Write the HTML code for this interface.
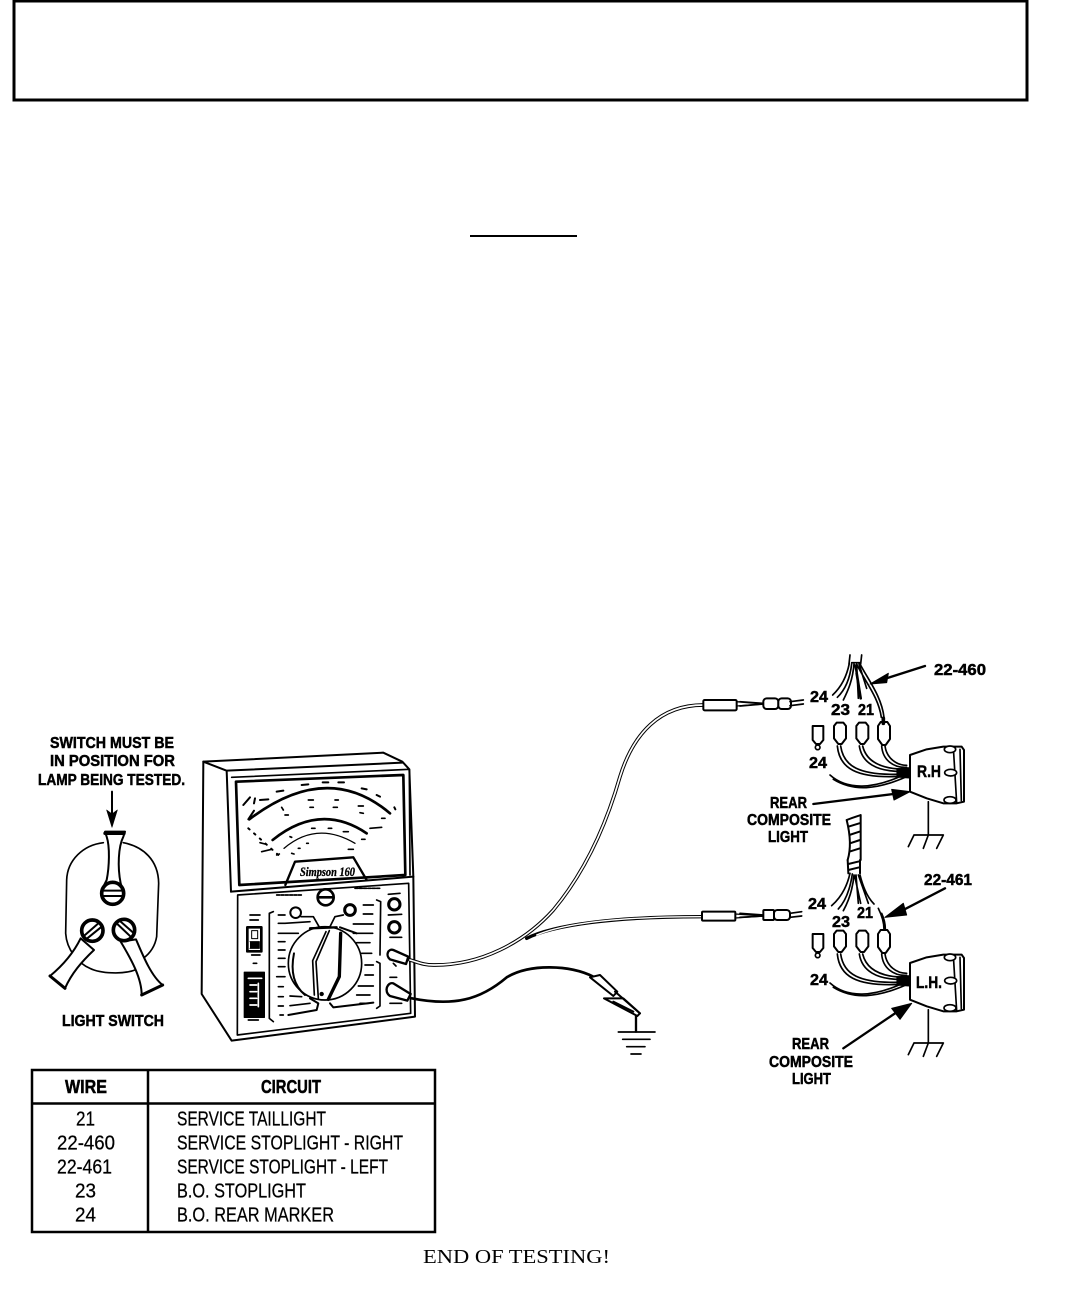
<!DOCTYPE html>
<html><head><meta charset="utf-8">
<style>
html,body{margin:0;padding:0;background:#fff}
svg{display:block}
.l{font-family:"Liberation Sans",sans-serif;font-weight:bold;fill:#000;stroke:#000;stroke-width:.5}
.t{font-family:"Liberation Sans",sans-serif;fill:#000;font-size:20px;stroke:#000;stroke-width:.25}
</style></head>
<body>
<svg width="1081" height="1290" viewBox="0 0 1081 1290" xmlns="http://www.w3.org/2000/svg">
<defs>
<g id="lamp" fill="none" stroke="#000" stroke-linecap="round" stroke-linejoin="round">
  <path d="M510,345 L560,328 L610,320 L665,320 L672,330 L672,485 L650,490 L610,490 L560,475 L510,455 Z" fill="#fff" stroke-width="6"/>
  <path d="M640,322 L650,488 M660,328 L664,482" stroke-width="5"/>
  <ellipse cx="630" cy="328" rx="17" ry="10" fill="#fff" stroke-width="5"/>
  <ellipse cx="632" cy="398" rx="18" ry="10" fill="#fff" stroke-width="5"/>
  <ellipse cx="630" cy="480" rx="18" ry="10" fill="#fff" stroke-width="5"/>
  <path d="M565,485 L565,585 M522,585 L610,585 M522,585 L505,620 M565,585 L550,625 M610,585 L590,625" stroke-width="5"/>
  <path d="M282,258 L290,248 L310,248 L318,258 L318,295 L305,312 L295,312 L282,295 Z" fill="#fff" stroke-width="6"/>
  <path d="M349,258 L357,248 L377,248 L385,258 L385,295 L372,312 L362,312 L349,295 Z" fill="#fff" stroke-width="6"/>
  <path d="M414,258 L422,246 L442,246 L450,258 L450,297 L437,315 L427,315 L414,297 Z" fill="#fff" stroke-width="6"/>
  <path d="M218,258 L250,258 L250,300 L240,312 L228,312 L218,300 Z" stroke-width="6"/>
  <circle cx="233" cy="322" r="7" stroke-width="5"/>
  <path d="M292,318 C298,380 340,420 500,408 M302,318 C310,375 350,410 500,402" stroke-width="5"/>
  <path d="M358,318 C365,365 405,398 500,394 M368,318 C378,360 415,388 500,388" stroke-width="5"/>
  <path d="M425,318 C428,360 460,384 500,382 M435,318 C440,355 470,376 500,376" stroke-width="5"/>
  <path d="M270,405 C320,450 400,450 500,400 M280,418 C340,455 410,450 500,410" stroke-width="5"/>
  <path d="M470,385 L508,382 L508,415 L470,412 Z" fill="#000" stroke-width="1"/>
</g>
</defs>

<rect x="14" y="1" width="1013" height="99" fill="none" stroke="#000" stroke-width="3"/>
<rect x="470" y="235" width="107" height="2" fill="#000"/>

<!-- labels left -->
<text class="l" x="50" y="748" font-size="16" textLength="124" lengthAdjust="spacingAndGlyphs">SWITCH MUST BE</text>
<text class="l" x="50" y="766" font-size="16" textLength="125" lengthAdjust="spacingAndGlyphs">IN POSITION FOR</text>
<text class="l" x="38" y="785" font-size="16" textLength="147" lengthAdjust="spacingAndGlyphs">LAMP BEING TESTED.</text>
<text class="l" x="62" y="1026" font-size="16" textLength="102" lengthAdjust="spacingAndGlyphs">LIGHT SWITCH</text>

<!-- light switch -->
<g transform="translate(0,720) scale(.33333)" fill="none" stroke="#000" stroke-linecap="round" stroke-linejoin="round">
  <path d="M310,368 C250,375 202,420 200,480 L197,640 C200,690 235,730 270,745 C300,760 370,765 410,748 M370,368 C430,380 475,420 476,490 L470,650 C465,680 450,700 430,715" stroke-width="5"/>
  <path d="M315,335 L375,335 L370,350 C355,380 352,440 362,490 L365,500 L310,500 L320,480 C328,440 330,380 320,350 Z" fill="#fff" stroke-width="6"/>
  <path d="M315,340 L372,340" stroke-width="10"/>
  <circle cx="338" cy="520" r="33" fill="#fff" stroke-width="11"/>
  <path d="M312,512 L365,512 M312,528 L365,528" stroke-width="6"/>
  <path d="M242,655 C220,700 190,735 150,768 L195,805 C215,760 245,725 282,690 Z" fill="#fff" stroke-width="6"/>
  <path d="M150,768 L195,805" stroke-width="9"/>
  <circle cx="277" cy="632" r="32" fill="#fff" stroke-width="11"/>
  <path d="M255,645 L295,610 M262,655 L305,620" stroke-width="6"/>
  <path d="M362,665 C395,720 425,775 425,825 L488,795 C455,770 430,710 408,658 Z" fill="#fff" stroke-width="6"/>
  <path d="M425,825 L488,795" stroke-width="9"/>
  <circle cx="372" cy="630" r="32" fill="#fff" stroke-width="11"/>
  <path d="M352,612 L392,650 M362,605 L402,640" stroke-width="6"/>
  <path d="M336,215 L336,300" stroke-width="6"/>
  <path d="M320,270 L336,322 L352,270 L336,282 Z" fill="#000" stroke-width="2"/>
</g>

<!-- meter -->
<g transform="translate(0,720) scale(.33333)" fill="none" stroke="#000" stroke-linecap="round" stroke-linejoin="round">
  <path d="M610,125 L1150,98 L1207,125 L1228,148 L1240,470 L1245,890 L695,962 L605,822 Z" fill="#fff" stroke-width="6"/>
  <path d="M610,125 L680,152 L1207,128 M680,152 L693,515" stroke-width="6"/>
  <path d="M695,172 L1228,148 M1228,148 L1230,465" stroke-width="5"/>
  <path d="M708,185 L1210,165 L1216,465 L718,495 Z" stroke-width="8"/>
  <path d="M693,515 L1240,470" stroke-width="6"/>
  <path d="M713,525 L1226,490 L1232,880 L712,945 Z" stroke-width="5"/>
  <!-- scale arcs -->
  <path d="M748,298 Q982,120 1170,280" stroke-width="8"/>
  <path d="M818,360 Q960,246 1100,340" stroke-width="8"/>
  <path d="M852,385 Q950,302 1065,370" stroke-width="4"/>
  <path d="M745,325 L835,405" stroke-width="6" stroke-dasharray="5 18"/>
  <path d="M745,298 L762,272 M730,255 L750,232 M762,250 L765,235 M780,240 L805,238 M830,215 L850,212 M905,195 L925,193 M968,187 L985,187 M1015,187 L1032,187 M1085,205 L1100,208 M1130,225 L1140,230 M1183,262 L1186,268" stroke-width="6"/>
  <path d="M845,262 L850,270 M855,285 L865,285 M925,240 L940,240 M930,262 L940,262 M1005,240 L1015,240 M1000,262 L1012,262 M1075,258 L1090,258 M1080,278 L1090,280 M1145,295 L1155,295 M1110,325 L1145,322 M870,350 L875,352 M935,325 L945,325 M985,325 L995,325 M1030,335 L1045,335 M1085,358 L1095,358 M1045,388 L1060,388 M780,368 L795,372 M785,395 L815,388 M830,405 L838,402 M875,400 L882,402 M895,385 L900,385 M920,370 L925,370" stroke-width="5"/>
  <path d="M856,495 L885,425 L1060,412 L1100,480" stroke-width="7"/>
  <text x="900" y="468" font-family="Liberation Serif,serif" font-style="italic" font-weight="bold" font-size="38" fill="#000" stroke="#000" stroke-width="1" textLength="165" lengthAdjust="spacingAndGlyphs">Simpson 160</text>
  <!-- panel -->
  <circle cx="977" cy="532" r="24" stroke-width="8"/>
  <path d="M958,532 L996,532" stroke-width="8"/>
  <circle cx="887" cy="578" r="16" stroke-width="6"/>
  <path d="M903,590 L940,590 L960,625" stroke-width="5"/>
  <circle cx="1050" cy="570" r="16" stroke-width="9"/>
  <path d="M1030,585 L1005,590 L990,620" stroke-width="5"/>
  <circle cx="975" cy="730" r="110" fill="#fff" stroke-width="5"/>
  <path d="M882,700 C870,760 885,800 915,825" stroke-width="6"/>
  <path d="M1020,622 L1070,640" stroke-width="6"/>
  <path d="M930,625 L1010,622" stroke-width="7"/>
  <path d="M978,635 L938,722 L943,825 M988,632 L948,725 L955,835" stroke-width="5"/>
  <path d="M1022,640 L1018,770 L985,838" stroke-width="10"/>
  <circle cx="965" cy="822" r="6" fill="#000"/>
  <path d="M930,835 L955,850 L950,870 L865,885 M990,850 L1000,862 L1120,848" stroke-width="6"/>
  <circle cx="1183" cy="553" r="17" stroke-width="9"/>
  <circle cx="1183" cy="622" r="17" stroke-width="9"/>
  <path d="M1165,523 L1200,520 M1165,585 L1205,583 M1170,652 L1205,652 M1180,730 L1188,738 M1170,772 L1190,772 M1170,850 L1205,850" stroke-width="5"/>
  <rect x="742" y="622" width="42" height="72" stroke-width="8"/>
  <rect x="755" y="632" width="18" height="24" fill="#fff" stroke-width="3"/>
  <path d="M750,665 L778,665 L778,685 L750,685" fill="#000" stroke-width="3"/>
  <rect x="733" y="757" width="60" height="135" fill="#000" stroke-width="4"/>
  <path d="M745,775 L785,775 M775,790 L775,860 M750,795 L770,795 M750,815 L770,815 M750,835 L770,835 M750,855 L770,855" stroke="#fff" stroke-width="5"/>
  <path d="M745,900 L775,900 M750,585 L780,585 M750,600 L775,600 M755,705 L780,705 M760,730 L770,730" stroke-width="5"/>
  <path d="M820,575 L808,580 L808,895 L820,905 M1130,540 L1142,545 L1140,705 M1130,725 L1140,730 L1140,858 L1130,865" stroke-width="5"/>
  <path d="M830,525 L905,525 M1065,505 L1140,505" stroke-width="5" stroke-dasharray="9 4"/>
  <path d="M835,585 L855,585 M835,610 L855,610 L930,605 M835,640 L855,640 L895,640 M835,665 L855,665 M835,690 L855,690 M835,715 L855,715 M835,740 L855,740 M830,770 L855,770 M835,800 L850,800 M870,828 L905,830 M835,830 L850,830 M870,857 L930,850 M835,858 L850,858 M840,885 L850,885" stroke-width="5"/>
  <path d="M1090,555 L1120,555 M1090,582 L1118,582 M1060,612 L1120,612 M1060,640 L1118,640 M1070,668 L1110,668 M1085,700 L1115,700 M1095,735 L1120,735 M1095,765 L1120,765 M1075,798 L1120,798 M1070,825 L1110,825 M1080,850 L1105,850" stroke-width="5"/>
</g>

<!-- leads -->
<g transform="translate(380,690) scale(.33333)" fill="none" stroke="#000" stroke-linecap="round" stroke-linejoin="round">
  <path d="M90,810 C110,815 130,826 165,825 C300,825 430,760 520,660 C620,540 680,400 720,260 C760,130 840,45 970,45" stroke-width="11"/>
  <path d="M90,810 C110,815 130,826 165,825 C300,825 430,760 520,660 C620,540 680,400 720,260 C760,130 840,45 970,45" stroke="#fff" stroke-width="5"/>
  <path d="M440,745 C520,705 700,680 965,680" stroke-width="10"/>
  <path d="M470,735 C550,702 700,680 965,680" stroke="#fff" stroke-width="4"/>
  <rect x="970" y="30" width="100" height="31" rx="4" fill="#fff" stroke-width="6"/>
  <path d="M1070,35 L1150,42 L1070,48 Z" stroke-width="4"/>
  <rect x="966" y="665" width="100" height="27" rx="3" fill="#fff" stroke-width="6"/>
  <path d="M1066,672 L1150,678 L1066,684 Z" stroke-width="4"/>
  <path d="M95,925 C220,950 300,930 380,862 C450,820 570,825 640,860" stroke-width="8"/>
  <!-- jacks -->
  <path d="M40,780 L85,800 L78,822 L30,808 C15,795 25,775 40,780 Z" fill="#fff" stroke-width="7"/>
  <path d="M40,880 L92,912 L82,932 L30,918 C10,905 22,875 40,880 Z" fill="#fff" stroke-width="7"/>
  <!-- clip -->
  <path d="M630,862 L660,855 L712,905 L700,918 Z" fill="#fff" stroke-width="6"/>
  <path d="M672,925 L730,925 L780,970 L772,978 Z" fill="#fff" stroke-width="6"/>
  <path d="M705,905 L780,970 M700,935 L760,965" stroke-width="6"/>
  <path d="M768,978 L768,1025" stroke-width="7"/>
  <path d="M715,1026 L825,1026 M728,1048 L810,1048 M740,1070 L795,1070 M753,1092 L783,1092" stroke-width="5"/>
</g>

<!-- right harnesses -->
<g transform="translate(740,640) scale(.33333)" fill="none" stroke="#000" stroke-linecap="round" stroke-linejoin="round">
  <use href="#lamp"/>
  <path d="M0,185 L70,190 M0,198 L70,192" stroke-width="5"/>
  <rect x="70" y="175" width="45" height="32" rx="10" fill="#fff" stroke-width="6"/>
  <rect x="115" y="175" width="38" height="32" rx="10" fill="#fff" stroke-width="6"/>
  <path d="M150,185 L190,180 M150,197 L190,192" stroke-width="5"/>
  <path d="M330,45 L327,72 M365,45 L362,72 M335,68 L360,68" stroke-width="5"/>
  <path d="M328,70 C320,110 305,140 278,165 M335,72 C330,115 315,150 292,172 M342,72 C338,120 325,150 310,180 M350,72 L355,175 M345,75 L362,175 M357,72 L380,145 M360,72 C385,120 425,170 432,232 M350,72 C375,125 415,170 424,232" stroke-width="5"/>
  <path d="M350,100 L362,175" stroke-width="8"/>
  <path d="M430,235 L430,250" stroke-width="11"/>
  <path d="M555,78 L430,118" stroke-width="7"/>
  <path d="M390,132 L445,100 L440,128 Z" fill="#000" stroke-width="3"/>
  <path d="M220,492 L460,462" stroke-width="7"/>
  <path d="M510,455 L455,448 L462,480 Z" fill="#000" stroke-width="3"/>
  <path d="M320,540 C345,530 355,528 362,525 L362,660 M320,540 C330,580 335,620 323,660 M325,560 L358,550 M328,585 L358,575 M330,610 L360,600 M328,635 L360,625" stroke-width="6"/>
  <g transform="translate(0,660)">
    <path d="M323,0 L325,40 M360,0 L360,40 M325,12 L358,4 M325,30 L358,22" stroke-width="6"/>
    <path d="M330,40 C320,85 300,115 275,137 M337,42 C330,90 315,125 295,147 M342,45 C338,90 325,125 310,152 M348,45 L355,130 M344,48 L362,130 M355,45 L385,130 M360,45 C370,85 385,115 402,132 M415,145 C425,165 432,185 432,208 M425,160 C432,175 436,190 436,208" stroke-width="5"/>
    <path d="M0,160 L70,165 M0,172 L70,168" stroke-width="5"/>
    <rect x="70" y="150" width="32" height="30" rx="3" fill="#fff" stroke-width="6"/>
    <rect x="102" y="150" width="48" height="30" rx="10" fill="#fff" stroke-width="6"/>
    <path d="M150,160 L185,155 M150,172 L185,168" stroke-width="5"/>
    <path d="M615,85 L480,155" stroke-width="7"/>
    <path d="M435,172 L490,130 L500,165 Z" fill="#000" stroke-width="3"/>
    <path d="M310,565 L480,450" stroke-width="7"/>
    <path d="M515,430 L455,445 L480,478 Z" fill="#000" stroke-width="3"/>
  </g>
</g>
<g transform="translate(740,848) scale(.33333)">
  <use href="#lamp"/>
</g>

<!-- right labels -->
<text class="l" x="934" y="675" font-size="16" textLength="52" lengthAdjust="spacingAndGlyphs">22-460</text>
<text class="l" x="810" y="702" font-size="16" textLength="18" lengthAdjust="spacingAndGlyphs">24</text>
<text class="l" x="831" y="715" font-size="16" textLength="19" lengthAdjust="spacingAndGlyphs">23</text>
<text class="l" x="858" y="715" font-size="16" textLength="16" lengthAdjust="spacingAndGlyphs">21</text>
<text class="l" x="809" y="768" font-size="16" textLength="18" lengthAdjust="spacingAndGlyphs">24</text>
<text class="l" x="917" y="777" font-size="17" textLength="24" lengthAdjust="spacingAndGlyphs">R.H</text>
<text class="l" x="770" y="808" font-size="16" textLength="37" lengthAdjust="spacingAndGlyphs">REAR</text>
<text class="l" x="747" y="825" font-size="16" textLength="84" lengthAdjust="spacingAndGlyphs">COMPOSITE</text>
<text class="l" x="768" y="842" font-size="16" textLength="40" lengthAdjust="spacingAndGlyphs">LIGHT</text>

<text class="l" x="924" y="885" font-size="16" textLength="48" lengthAdjust="spacingAndGlyphs">22-461</text>
<text class="l" x="808" y="909" font-size="16" textLength="18" lengthAdjust="spacingAndGlyphs">24</text>
<text class="l" x="832" y="927" font-size="16" textLength="18" lengthAdjust="spacingAndGlyphs">23</text>
<text class="l" x="857" y="918" font-size="16" textLength="16" lengthAdjust="spacingAndGlyphs">21</text>
<text class="l" x="810" y="985" font-size="16" textLength="18" lengthAdjust="spacingAndGlyphs">24</text>
<text class="l" x="916" y="988" font-size="17" textLength="26" lengthAdjust="spacingAndGlyphs">L.H.</text>
<text class="l" x="792" y="1049" font-size="16" textLength="37" lengthAdjust="spacingAndGlyphs">REAR</text>
<text class="l" x="769" y="1067" font-size="16" textLength="84" lengthAdjust="spacingAndGlyphs">COMPOSITE</text>
<text class="l" x="792" y="1084" font-size="16" textLength="39" lengthAdjust="spacingAndGlyphs">LIGHT</text>

<!-- table -->
<rect x="32" y="1070" width="403" height="162" fill="none" stroke="#000" stroke-width="2.5"/>
<path d="M32,1103.5 H435" stroke="#000" stroke-width="2.5"/>
<path d="M148,1070 V1232" stroke="#000" stroke-width="2.5"/>
<text class="l" x="65" y="1093" font-size="18" textLength="42" lengthAdjust="spacingAndGlyphs">WIRE</text>
<text class="l" x="261" y="1093" font-size="18" textLength="60" lengthAdjust="spacingAndGlyphs">CIRCUIT</text>
<text class="t" x="76" y="1125.5" textLength="19" lengthAdjust="spacingAndGlyphs">21</text>
<text class="t" x="57" y="1149.5" textLength="58" lengthAdjust="spacingAndGlyphs">22-460</text>
<text class="t" x="57" y="1173.5" textLength="55" lengthAdjust="spacingAndGlyphs">22-461</text>
<text class="t" x="75" y="1197.5" textLength="21" lengthAdjust="spacingAndGlyphs">23</text>
<text class="t" x="75" y="1221.5" textLength="21" lengthAdjust="spacingAndGlyphs">24</text>
<text class="t" x="177" y="1125.5" textLength="149" lengthAdjust="spacingAndGlyphs">SERVICE TAILLIGHT</text>
<text class="t" x="177" y="1149.5" textLength="226" lengthAdjust="spacingAndGlyphs">SERVICE STOPLIGHT - RIGHT</text>
<text class="t" x="177" y="1173.5" textLength="211" lengthAdjust="spacingAndGlyphs">SERVICE STOPLIGHT - LEFT</text>
<text class="t" x="177" y="1197.5" textLength="129" lengthAdjust="spacingAndGlyphs">B.O. STOPLIGHT</text>
<text class="t" x="177" y="1221.5" textLength="157" lengthAdjust="spacingAndGlyphs">B.O. REAR MARKER</text>

<text x="423" y="1263" font-family="Liberation Serif,serif" font-size="20" fill="#000" textLength="187" lengthAdjust="spacingAndGlyphs">END OF TESTING!</text>
</svg>
</body></html>
